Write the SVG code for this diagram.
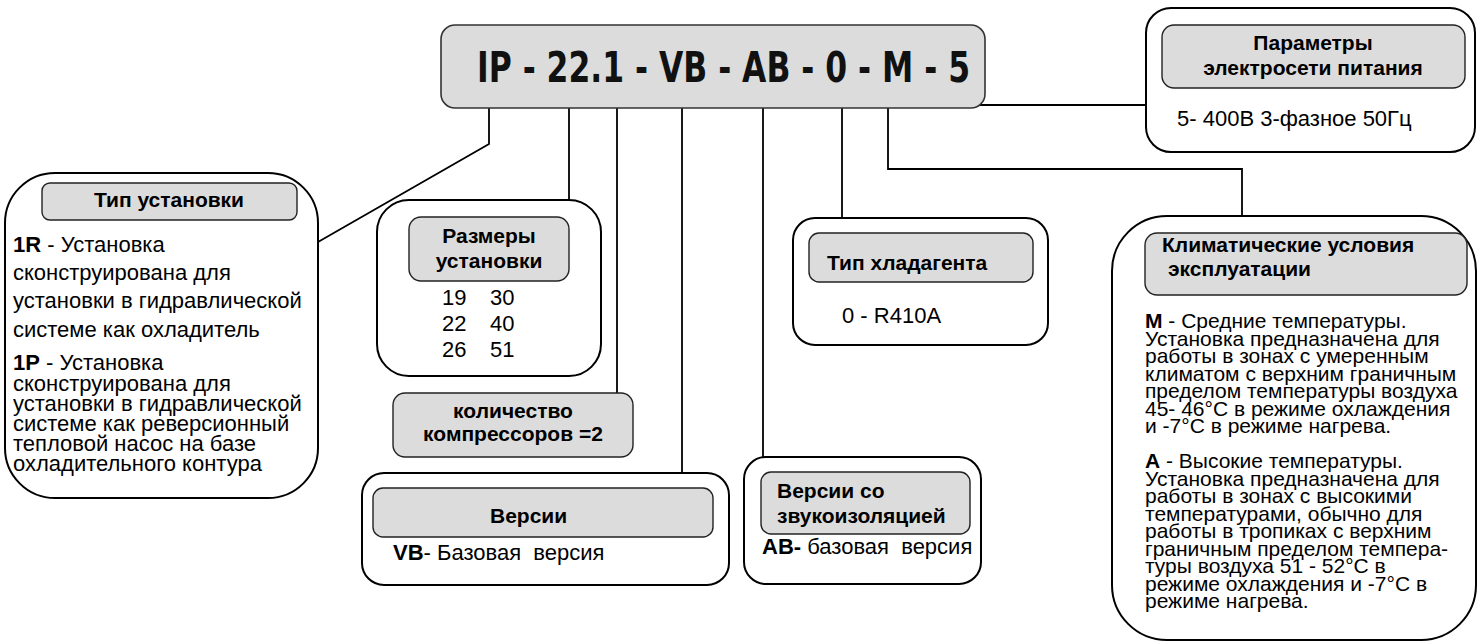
<svg xmlns="http://www.w3.org/2000/svg" width="1481" height="643" viewBox="0 0 1481 643">
<style>
.box{fill:#fff;stroke:#000;stroke-width:2}
.hdr{fill:#dcdcdc;stroke:#222;stroke-width:1.4}
.conn{fill:none;stroke:#000;stroke-width:1.8}
.t{font-family:"Liberation Sans",Arial,sans-serif;font-size:22px;fill:#000}
.c{font-size:21px}
.h{font-family:"Liberation Sans",Arial,sans-serif;font-size:21px;font-weight:bold;fill:#000}
.b{font-weight:bold}
.mid{text-anchor:middle}
.code{font-family:"DejaVu Sans",Verdana,sans-serif;font-weight:bold;font-size:42px;fill:#111}
</style>
<rect width="1481" height="643" fill="#fff"/>
<g id="connectors">
<polyline class="conn" points="489,96 489,144 318,242"/>
<line class="conn" x1="569" y1="96" x2="569" y2="201"/>
<line class="conn" x1="617" y1="96" x2="617" y2="393"/>
<line class="conn" x1="682" y1="96" x2="682" y2="473"/>
<line class="conn" x1="763" y1="96" x2="763" y2="457"/>
<line class="conn" x1="842" y1="96" x2="842" y2="218"/>
<polyline class="conn" points="888,96 888,169 1242,169 1242,216"/>
<polyline class="conn" points="953,96 953,105 1146,105"/>
</g>
<g id="code">
<rect x="441" y="25" width="544" height="83" rx="14" fill="#dcdcdc" stroke="#333" stroke-width="1.6"/>
<text class="code" x="477" y="82" textLength="493" lengthAdjust="spacingAndGlyphs">IP - 22.1 - VB - AB - 0 - M - 5</text>
</g>
<g id="tip-ustanovki">
<rect class="box" x="5" y="173" width="313" height="325" rx="50"/>
<rect class="hdr" x="42" y="183" width="255" height="37" rx="8"/>
<text class="h mid" x="169" y="207">Тип установки</text>
<text class="t" x="13" y="252"><tspan class="b">1R</tspan> - Установка</text>
<text class="t" x="13" y="280">сконструирована для</text>
<text class="t" x="13" y="308">установки в гидравлической</text>
<text class="t" x="13" y="337">системе как охладитель</text>
<text class="t" x="13" y="370"><tspan class="b">1P</tspan> - Установка</text>
<text class="t" x="13" y="391">сконструирована для</text>
<text class="t" x="13" y="411">установки в гидравлической</text>
<text class="t" x="13" y="431">системе как реверсионный</text>
<text class="t" x="13" y="451">тепловой насос на базе</text>
<text class="t" x="13" y="471">охладительного контура</text>
</g>
<g id="razmery">
<rect class="box" x="377" y="200" width="224" height="176" rx="32"/>
<rect class="hdr" x="409" y="217" width="160" height="64" rx="12"/>
<text class="h mid" x="489" y="243">Размеры</text>
<text class="h mid" x="489" y="268">установки</text>
<text class="t" x="442" y="305">19</text><text class="t" x="490" y="305">30</text>
<text class="t" x="442" y="331">22</text><text class="t" x="490" y="331">40</text>
<text class="t" x="442" y="357">26</text><text class="t" x="490" y="357">51</text>
</g>
<g id="kompressory">
<rect class="hdr" x="393" y="393" width="240" height="64" rx="12"/>
<text class="h mid" x="513" y="418">количество</text>
<text class="h mid" x="513" y="441">компрессоров =2</text>
</g>
<g id="versii">
<rect class="box" x="362" y="473" width="367" height="112" rx="22"/>
<rect class="hdr" x="373" y="488" width="340" height="49" rx="10"/>
<text class="h" x="490" y="523">Версии</text>
<text class="t" x="393" y="560" xml:space="preserve"><tspan class="b">VB</tspan>- Базовая  версия</text>
</g>
<g id="zvukoizolyaciya">
<rect class="box" x="744" y="457" width="237" height="127" rx="22"/>
<rect class="hdr" x="761" y="472" width="209" height="62" rx="10"/>
<text class="h" x="777" y="498">Версии со</text>
<text class="h" x="777" y="523">звукоизоляцией</text>
<text class="t" x="762" y="554" xml:space="preserve"><tspan class="b">AB-</tspan> базовая  версия</text>
</g>
<g id="hladagent">
<rect class="box" x="793" y="218" width="255" height="127" rx="22"/>
<rect class="hdr" x="809" y="233" width="224" height="49" rx="10"/>
<text class="h" x="827" y="270">Тип хладагента</text>
<text class="t" x="842" y="323">0 - R410A</text>
</g>
<g id="klimat">
<rect class="box" x="1112" y="216" width="364" height="424" rx="55"/>
<rect class="hdr" x="1145" y="233" width="322" height="62" rx="12"/>
<text class="h" x="1162" y="252">Климатические условия</text>
<text class="h" x="1168" y="276">эксплуатации</text>
<text class="t c" x="1145" y="328"><tspan class="b">М</tspan> - Средние температуры.</text>
<text class="t c" x="1145" y="345.5">Установка предназначена для</text>
<text class="t c" x="1145" y="363">работы в зонах с умеренным</text>
<text class="t c" x="1145" y="380.5">климатом с верхним граничным</text>
<text class="t c" x="1145" y="398">пределом температуры воздуха</text>
<text class="t c" x="1145" y="415.5">45- 46°C в режиме охлаждения</text>
<text class="t c" x="1145" y="433">и -7°C в режиме нагрева.</text>
<text class="t c" x="1145" y="468"><tspan class="b">А</tspan> - Высокие температуры.</text>
<text class="t c" x="1145" y="485.5">Установка предназначена для</text>
<text class="t c" x="1145" y="503">работы в зонах с высокими</text>
<text class="t c" x="1145" y="520.5">температурами, обычно для</text>
<text class="t c" x="1145" y="538">работы в тропиках с верхним</text>
<text class="t c" x="1145" y="555.5">граничным пределом темпера-</text>
<text class="t c" x="1145" y="573">туры воздуха 51 - 52°C в</text>
<text class="t c" x="1145" y="590.5">режиме охлаждения и -7°C в</text>
<text class="t c" x="1145" y="608">режиме нагрева.</text>
</g>
<g id="pitanie">
<rect class="box" x="1146" y="8" width="329" height="144" rx="25"/>
<rect class="hdr" x="1162" y="25" width="303" height="63" rx="12"/>
<text class="h mid" x="1313" y="50">Параметры</text>
<text class="h mid" x="1313" y="75">электросети питания</text>
<text class="t" x="1177" y="126">5- 400В 3-фазное 50Гц</text>
</g>
</svg>
